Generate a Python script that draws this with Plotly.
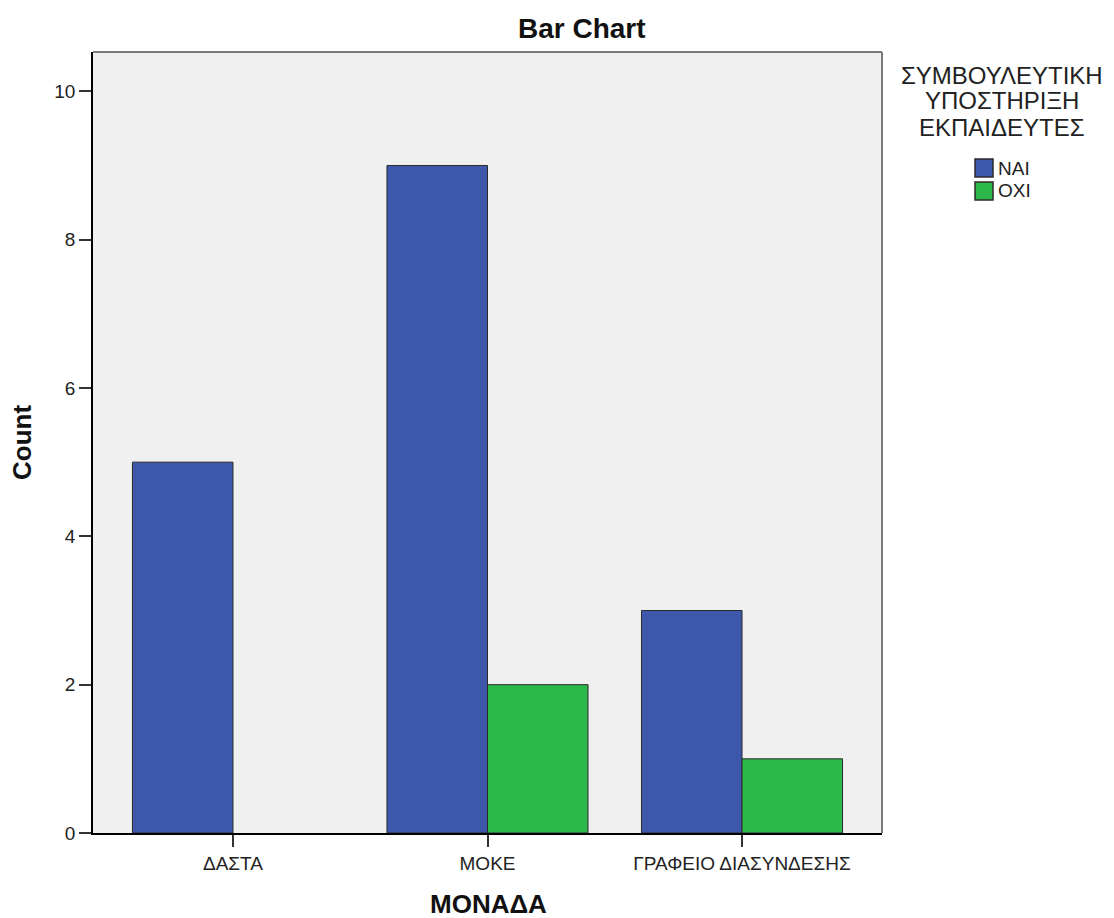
import plotly.graph_objects as go

categories = ["ΔΑΣΤΑ", "ΜΟΚΕ", "ΓΡΑΦΕΙΟ ΔΙΑΣΥΝΔΕΣΗΣ"]
nai_values = [5, 9, 3]
oxi_values = [0, 2, 1]
series_names = ["ΝΑΙ", "ΟΧΙ"]
legend_title_lines = ["ΣΥΜΒΟΥΛΕΥΤΙΚΗ", "ΥΠΟΣΤΗΡΙΞΗ", "ΕΚΠΑΙΔΕΥΤΕΣ"]
y_ticks = [0, 2, 4, 6, 8, 10]

BLUE = "#3d57aa"
GREEN = "#2db84b"
COLORS = [BLUE, GREEN]
FONT = "Liberation Sans, Arial, sans-serif"

# page offset (default body margin of 8px) compensation
OFF = 8
L, R, T, B = 93, 882, 52, 833  # plot area in page pixels
W, H = 1114 - OFF, 918 - OFF


def px(x):
    return (x - L) / (R - L)


def py(y):
    return (B - y) / (B - T)


fig = go.Figure()
for name, vals, col in zip(series_names, [nai_values, oxi_values], COLORS):
    fig.add_trace(go.Bar(x=categories, y=vals, name=name,
                         marker=dict(color=col,
                                     line=dict(color="#2b2b2b",
                                               width=[1 if v else 0 for v in vals]))))

fig.update_layout(
    width=W, height=H,
    margin=dict(l=L - OFF, r=W + OFF - R, t=T - OFF, b=H + OFF - B, pad=0),
    paper_bgcolor="white",
    plot_bgcolor="#f0f0f0",
    barmode="group",
    bargap=0.21,
    bargroupgap=0,
    font=dict(family=FONT, color="#222"),
    showlegend=False,
    xaxis=dict(
        type="category", range=[-0.55, 2.55],
        showline=True, linecolor="black", linewidth=1.5, layer="above traces",
        ticks="outside", ticklen=12, tickcolor="#333", tickwidth=1.5,
        tickfont=dict(size=19, family=FONT, color="#222"),
        showgrid=False, zeroline=False,
    ),
    yaxis=dict(
        range=[0, 10.53], tickvals=y_ticks,
        showline=True, linecolor="black", linewidth=1.5, layer="above traces",
        ticks="outside", ticklen=12, tickcolor="#333", tickwidth=1.5,
        tickfont=dict(size=19, family=FONT, color="#222"),
        showgrid=False, zeroline=False,
    ),
)

# plot area border (top and right)
fig.add_shape(type="line", xref="paper", yref="paper", x0=0, x1=1, y0=1, y1=1,
              line=dict(color="#7a7a7a", width=2))
fig.add_shape(type="line", xref="paper", yref="paper", x0=1, x1=1, y0=0, y1=1,
              line=dict(color="#7a7a7a", width=2))

# title
fig.add_annotation(text="<b>Bar Chart</b>", xref="paper", yref="paper",
                   x=px(582), y=py(29), xanchor="center", yanchor="middle",
                   showarrow=False, font=dict(size=28, family=FONT, color="#111"))

# axis titles
fig.add_annotation(text="<b>Count</b>", xref="paper", yref="paper",
                   x=px(22), y=py(443), xanchor="center", yanchor="middle", textangle=-90,
                   showarrow=False, font=dict(size=26, family=FONT, color="#111"))
fig.add_annotation(text="<b>ΜΟΝΑΔΑ</b>", xref="paper", yref="paper",
                   x=px(488), y=py(904), xanchor="center", yanchor="middle",
                   showarrow=False, font=dict(size=26, family=FONT, color="#111"))

# legend title
for i, line in enumerate(legend_title_lines):
    fig.add_annotation(text=line, xref="paper", yref="paper",
                       x=px(1002), y=py(75 + 26 * i), xanchor="center", yanchor="middle",
                       showarrow=False, font=dict(size=24, family=FONT, color="#222"))

# legend items
for i, (name, col) in enumerate(zip(series_names, COLORS)):
    yc = 168 + 23 * i
    fig.add_shape(type="rect", xref="paper", yref="paper",
                  x0=px(975), x1=px(993), y0=py(yc - 9), y1=py(yc + 9),
                  fillcolor=col, line=dict(color="#2b2b2b", width=1.5))
    fig.add_annotation(text=name, xref="paper", yref="paper",
                       x=px(996), y=py(yc), xanchor="left", yanchor="middle",
                       showarrow=False, font=dict(size=19, family=FONT, color="#222"))

fig.write_html("out.html")
